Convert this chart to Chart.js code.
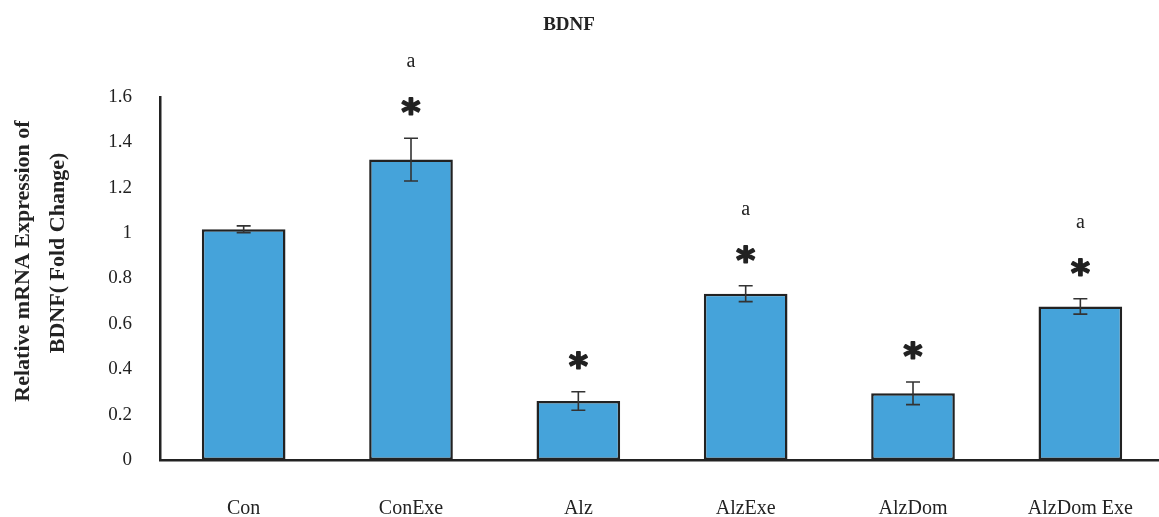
<!DOCTYPE html>
<html>
<head>
<meta charset="utf-8">
<script src="https://cdn.jsdelivr.net/npm/chart.js@4.4.1/dist/chart.umd.min.js"></script>
<style>
  html, body { margin: 0; padding: 0; background: #fff; overflow: hidden; }
  #wrap { width: 1170px; height: 517px; }
</style>
</head>
<body>
<div id="wrap"><canvas id="c" width="1170" height="517"></canvas></div>
<script>
// Groups and BDNF fold-change measurements (mean and error)
const groups = ['Con', 'ConExe', 'Alz', 'AlzExe', 'AlzDom', 'AlzDom Exe'];
const foldChange = [1.017, 1.324, 0.260, 0.733, 0.294, 0.677];
const errors = [0.015, 0.094, 0.041, 0.035, 0.050, 0.034];
// Significance marks drawn above each group
const starMarks = [false, true, true, true, true, true];
const letterMarks = ['', 'a', '', 'a', '', 'a'];
const yTicks = [0, 0.2, 0.4, 0.6, 0.8, 1, 1.2, 1.4, 1.6];

const INK = '#222222';
const SERIF = '"Liberation Serif", "DejaVu Serif", serif';

const annotate = {
  id: 'annotate',
  afterDatasetsDraw(chart) {
    const ctx = chart.ctx;
    const y = chart.scales.y;
    const meta = chart.getDatasetMeta(0);
    ctx.save();
    meta.data.forEach((bar, i) => {
      const x = bar.x;
      const top = y.getPixelForValue(foldChange[i] + errors[i]);
      const bot = y.getPixelForValue(foldChange[i] - errors[i]);
      // error bar with caps
      ctx.strokeStyle = '#333333';
      ctx.lineWidth = 1.6;
      ctx.beginPath();
      ctx.moveTo(x, top); ctx.lineTo(x, bot);
      ctx.moveTo(x - 7, top); ctx.lineTo(x + 7, top);
      ctx.moveTo(x - 7, bot); ctx.lineTo(x + 7, bot);
      ctx.stroke();
      ctx.fillStyle = INK;
      ctx.textAlign = 'center';
      ctx.textBaseline = 'alphabetic';
      const starCenter = top - 36;
      if (starMarks[i]) {
        ctx.font = 'bold 36px "DejaVu Sans", sans-serif';
        ctx.strokeStyle = INK;
        ctx.lineWidth = 1.8;
        ctx.lineJoin = 'round';
        ctx.fillText('*', x, starCenter + 22);
        ctx.strokeText('*', x, starCenter + 22);
      }
      if (letterMarks[i]) {
        ctx.font = '20px ' + SERIF;
        ctx.fillText(letterMarks[i], x, top - 76 + 5);
      }
    });
    ctx.restore();
  },
  afterDraw(chart) {
    const ctx = chart.ctx;
    ctx.save();
    ctx.fillStyle = INK;
    ctx.textAlign = 'center';
    ctx.textBaseline = 'middle';
    ctx.font = 'bold 19px ' + SERIF;
    ctx.fillText('BDNF', 569, 25);
    // rotated y-axis title, two lines
    ctx.font = 'bold 22px ' + SERIF;
    ctx.save();
    ctx.translate(23, 261);
    ctx.rotate(-Math.PI / 2);
    ctx.fillText('Relative mRNA Expression of', 0, 0);
    ctx.restore();
    ctx.save();
    ctx.translate(58, 253);
    ctx.rotate(-Math.PI / 2);
    ctx.fillText('BDNF( Fold Change)', 0, 0);
    ctx.restore();
    ctx.restore();
  }
};

new Chart(document.getElementById('c'), {
  type: 'bar',
  data: {
    labels: groups,
    datasets: [{
      data: foldChange,
      backgroundColor: '#45A3DA',
      borderColor: INK,
      borderWidth: 2.5,
      borderSkipped: false,
      categoryPercentage: 1,
      barPercentage: 0.5
    }]
  },
  options: {
    responsive: false,
    animation: false,
    layout: { padding: { left: 0, right: 2, top: 97, bottom: 0 } },
    plugins: { legend: { display: false }, tooltip: { enabled: false } },
    scales: {
      x: {
        grid: { display: false, drawTicks: false },
        border: { color: INK, width: 2.5 },
        ticks: { color: INK, font: { family: SERIF, size: 20 }, padding: 37, maxRotation: 0, autoSkip: false },
        afterFit(s) { s.height = 57; }
      },
      y: {
        min: 0, max: 1.6,
        grid: { display: false, drawTicks: false },
        border: { color: INK, width: 2.5 },
        afterBuildTicks(s) { s.ticks = yTicks.map(v => ({ value: v })); },
        ticks: { color: INK, font: { family: SERIF, size: 19 }, padding: 28, callback: v => String(v) },
        afterFit(s) { s.width = 160; }
      }
    }
  },
  plugins: [annotate]
});
</script>
</body>
</html>
